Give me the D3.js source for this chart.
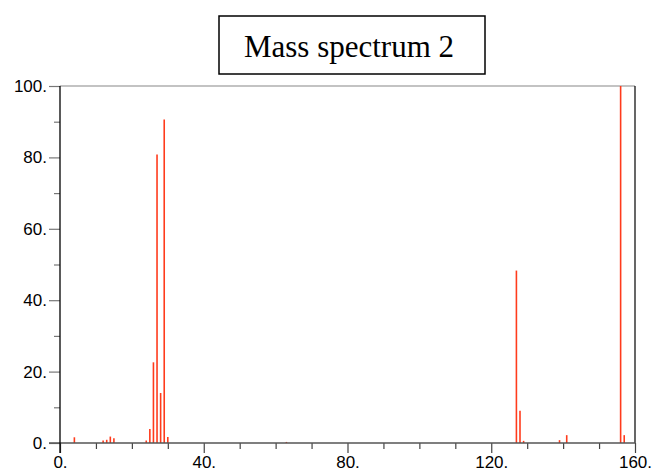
<!DOCTYPE html>
<html>
<head>
<meta charset="utf-8">
<script src="https://cdn.jsdelivr.net/npm/d3@7"></script>
<style>
  html, body { margin: 0; padding: 0; background: #fff; }
  svg { display: block; }
</style>
</head>
<body>
<svg id="chart" width="653" height="473"></svg>
<script>
// ---- data ----
const title = "Mass spectrum 2";
const mz = [4, 12, 13, 14, 15, 24, 25, 26, 27, 28, 29, 30, 63, 127, 128, 129, 139, 141, 156, 157];
const intensity = [1.6, 0.7, 0.9, 1.8, 1.3, 0.7, 3.9, 22.6, 80.8, 14.0, 90.6, 1.7, 0.3, 48.3, 9.0, 0.6, 0.8, 2.2, 100, 2.2];
const xMajorTicks = [0, 40, 80, 120, 160];
const xTickLabels = ["0.", "40.", "80.", "120.", "160."];
const xMinorTicks = [10, 20, 30, 50, 60, 70, 90, 100, 110, 130, 140, 150];
const yMajorTicks = [0, 20, 40, 60, 80, 100];
const yTickLabels = ["0.", "20.", "40.", "60.", "80.", "100."];
const yMinorTicks = [10, 30, 50, 70, 90];

// ---- layout ----
const L = 60, R = 635, T = 86, B = 443;
const svg = d3.select("#chart");
const x = d3.scaleLinear().domain([0, 160]).range([L, R]);
const y = d3.scaleLinear().domain([0, 100]).range([B, T]);

const labelFont = "'Liberation Sans', Arial, sans-serif";

// top border (gray) and right border (black)
svg.append("line").attr("x1", L).attr("x2", R).attr("y1", T).attr("y2", T)
  .attr("stroke", "#888").attr("stroke-width", 1.2);
svg.append("line").attr("x1", R).attr("x2", R).attr("y1", T).attr("y2", B)
  .attr("stroke", "#000").attr("stroke-width", 1.2);

// peaks
svg.append("g").selectAll("line").data(mz).join("line")
  .attr("x1", d => x(d)).attr("x2", d => x(d))
  .attr("y1", y(0)).attr("y2", (d, i) => y(intensity[i]))
  .attr("stroke", "#ff3b1c").attr("stroke-width", 1.6);

// x axis (major + minor)
const xAxisMajor = d3.axisBottom(x).tickValues(xMajorTicks)
  .tickFormat((d, i) => xTickLabels[i]).tickSize(10).tickPadding(3);
const gx = svg.append("g").attr("transform", `translate(0,${B})`).call(xAxisMajor);
gx.select(".domain").remove();
gx.selectAll(".tick line").attr("stroke", "#444").attr("stroke-width", 1.2);
gx.selectAll(".tick text").attr("font-family", labelFont).attr("font-size", 17).attr("fill", "#000");

const xAxisMinor = d3.axisBottom(x).tickValues(xMinorTicks).tickFormat("").tickSize(6);
const gxm = svg.append("g").attr("transform", `translate(0,${B})`).call(xAxisMinor);
gxm.select(".domain").remove();
gxm.selectAll(".tick line").attr("stroke", "#444").attr("stroke-width", 1.2);

// y axis (major + minor)
const yAxisMajor = d3.axisLeft(y).tickValues(yMajorTicks)
  .tickFormat((d, i) => yTickLabels[i]).tickSize(11).tickPadding(2);
const gy = svg.append("g").attr("transform", `translate(${L},0)`).call(yAxisMajor);
gy.select(".domain").remove();
gy.selectAll(".tick line").attr("stroke", "#777").attr("stroke-width", 1.2);
gy.selectAll(".tick text").attr("font-family", labelFont).attr("font-size", 17).attr("fill", "#000");

const yAxisMinor = d3.axisLeft(y).tickValues(yMinorTicks).tickFormat("").tickSize(6);
const gym = svg.append("g").attr("transform", `translate(${L},0)`).call(yAxisMinor);
gym.select(".domain").remove();
gym.selectAll(".tick line").attr("stroke", "#777").attr("stroke-width", 1.2);

// baseline (x axis line) and left axis line
svg.append("line").attr("x1", L - 11).attr("x2", R).attr("y1", B).attr("y2", B)
  .attr("stroke", "#555").attr("stroke-width", 1.3);
svg.append("line").attr("x1", L).attr("x2", L).attr("y1", T).attr("y2", B + 10)
  .attr("stroke", "#000").attr("stroke-width", 1.3);

// title box
svg.append("rect").attr("x", 219).attr("y", 16).attr("width", 266).attr("height", 58)
  .attr("fill", "#fff").attr("stroke", "#000").attr("stroke-width", 1.5);
svg.append("text").attr("x", 349).attr("y", 57).attr("text-anchor", "middle")
  .attr("font-family", "'Liberation Serif', 'Times New Roman', serif").attr("font-size", 31)
  .attr("fill", "#000").text(title);
</script>
</body>
</html>
